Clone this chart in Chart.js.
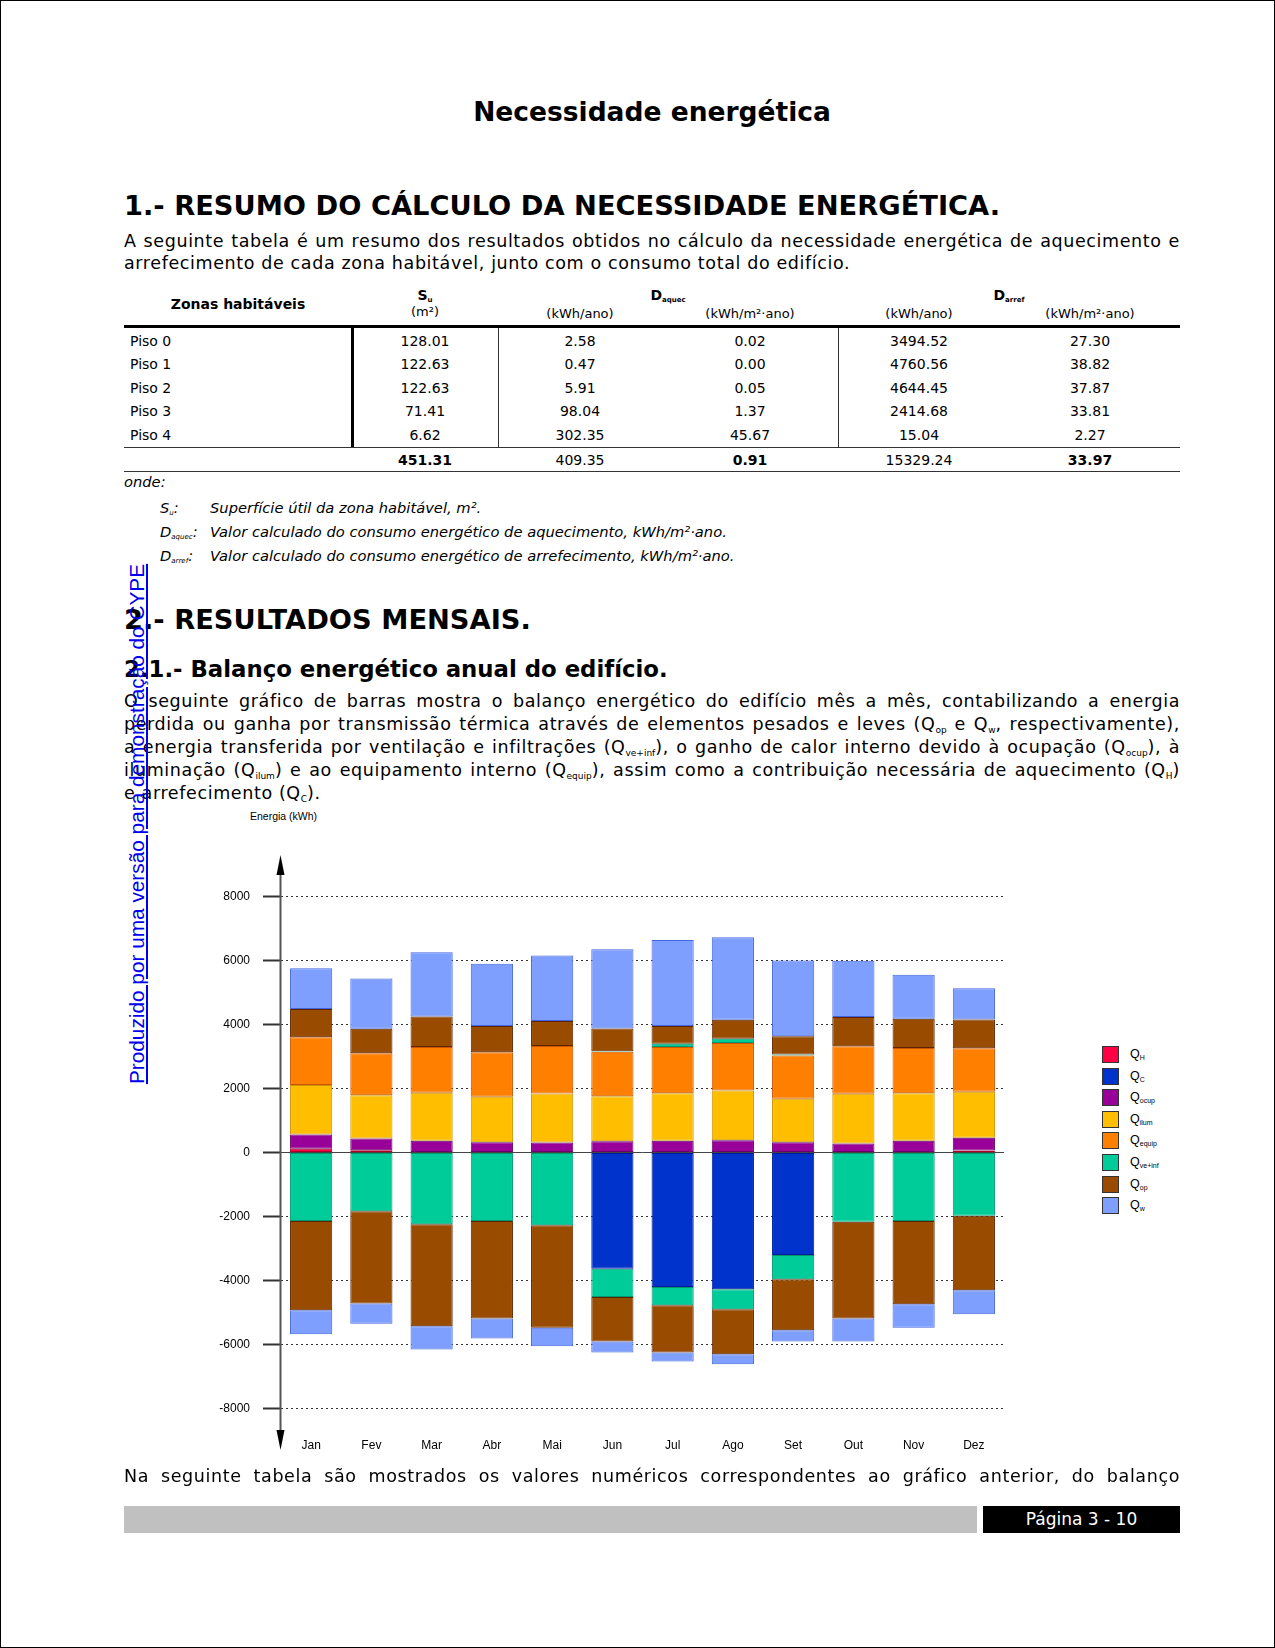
<!DOCTYPE html>
<html lang="pt">
<head>
<meta charset="utf-8">
<title>Necessidade energética</title>
<script src="https://cdn.jsdelivr.net/npm/chart.js@4.4.1/dist/chart.umd.min.js"></script>
<style>
  html, body { margin: 0; padding: 0; background: #fff; }
  body { width: 1275px; height: 1648px; position: relative; overflow: hidden; font-family: "DejaVu Sans", Verdana, sans-serif; color: #000; }
  .frame { position: absolute; left: 0; top: 0; width: 1273px; height: 1646px; border: 1px solid #000; }
  .abs { position: absolute; }
  .title { left: 124px; width: 1056px; top: 96px; font-size: 26.5px; font-weight: bold; text-align: center; line-height: 32px; }
  .h1 { left: 124px; font-size: 27.3px; font-weight: bold; line-height: 32px; white-space: nowrap; }
  .h2 { left: 124px; font-size: 22.8px; font-weight: bold; line-height: 28px; white-space: nowrap; }
  .jl { left: 124px; width: 1056px; font-size: 17.5px; letter-spacing: 0.62px; line-height: 22px; text-align: justify; text-align-last: justify; }
  .ll { left: 124px; width: 1056px; font-size: 17.5px; letter-spacing: 0.62px; line-height: 22px; }
  .jl sub, .ll sub { font-size: 9px; letter-spacing: 0; vertical-align: -3px; line-height: 0; }
  .row { position: absolute; left: 124px; width: 1056px; display: flex; font-size: 14px; }
  .row div { text-align: center; }
  .c0 { width: 228px; } .c1 { width: 146px; } .c2 { width: 164px; } .c3 { width: 176px; } .c4 { width: 162px; } .c5 { width: 180px; }
  .row .c0.l { text-align: left; padding-left: 6px; box-sizing: border-box; }
  .hd sub { font-size: 7px; vertical-align: -2px; line-height: 0; }
  .unit { font-size: 13px; }
  .hline { position: absolute; left: 124px; width: 1056px; background: #000; }
  .vline { position: absolute; background: #000; }
  .note { font-size: 14.7px; font-style: italic; line-height: 18px; white-space: nowrap; }
  .note sub { font-size: 7px; vertical-align: -2px; line-height: 0; }
  .mark { left: -143px; top: 812px; width: 560px; height: 24px; line-height: 24px; text-align: center; font-family: "Liberation Sans", Arial, sans-serif; font-size: 20.8px; color: #0000ee; text-decoration: underline; transform: rotate(-90deg); white-space: nowrap; }
  .ylab { left: 250px; top: 809px; font-family: "Liberation Sans", Arial, sans-serif; font-size: 10.5px; line-height: 14px; }
  #chartBox { position: absolute; left: 180px; top: 800px; width: 830px; height: 676px; }
  #legend { position: absolute; left: 1102px; top: 1046px; font-family: "Liberation Sans", Arial, sans-serif; }
  #legend .it { height: 21.6px; display: flex; align-items: flex-start; }
  #legend .sw { width: 15px; height: 15px; border: 1px solid #333; box-sizing: content-box; margin-right: 11px; }
  #legend .tx { font-size: 12.5px; line-height: 16px; }
  #legend .tx sub { font-size: 7px; vertical-align: -2px; line-height: 0; }
  .foot { position: absolute; top: 1506px; height: 27px; }
</style>
</head>
<body>
<div class="frame"></div>

<div class="abs title">Necessidade energética</div>

<div class="abs h1" style="top:190px">1.- RESUMO DO CÁLCULO DA NECESSIDADE ENERGÉTICA.</div>
<div class="abs jl" style="top:230px">A seguinte tabela é um resumo dos resultados obtidos no cálculo da necessidade energética de aquecimento e</div>
<div class="abs ll" style="top:252px">arrefecimento de cada zona habitável, junto com o consumo total do edifício.</div>

<!-- tabela resumo -->
<div class="row hd" style="top:284px;height:22px;line-height:22px">
  <div class="c0" style="font-weight:bold;line-height:40px">Zonas habitáveis</div>
  <div class="c1" style="font-weight:bold">S<sub>u</sub></div>
  <div style="width:340px;font-weight:bold">D<sub>aquec</sub></div>
  <div style="width:342px;font-weight:bold">D<sub>arref</sub></div>
</div>
<div class="row unit" style="top:304px;height:20px;line-height:20px">
  <div class="c0"></div>
  <div class="c1" style="margin-top:-2px">(m²)</div>
  <div class="c2">(kWh/ano)</div>
  <div class="c3">(kWh/m²·ano)</div>
  <div class="c4">(kWh/ano)</div>
  <div class="c5">(kWh/m²·ano)</div>
</div>
<div class="hline" style="top:325px;height:3px"></div>
<div class="row" style="top:329.5px;height:23.5px;line-height:23.5px"><div class="c0 l">Piso 0</div><div class="c1">128.01</div><div class="c2">2.58</div><div class="c3">0.02</div><div class="c4">3494.52</div><div class="c5">27.30</div></div>
<div class="row" style="top:353px;height:23.5px;line-height:23.5px"><div class="c0 l">Piso 1</div><div class="c1">122.63</div><div class="c2">0.47</div><div class="c3">0.00</div><div class="c4">4760.56</div><div class="c5">38.82</div></div>
<div class="row" style="top:376.5px;height:23.5px;line-height:23.5px"><div class="c0 l">Piso 2</div><div class="c1">122.63</div><div class="c2">5.91</div><div class="c3">0.05</div><div class="c4">4644.45</div><div class="c5">37.87</div></div>
<div class="row" style="top:400px;height:23.5px;line-height:23.5px"><div class="c0 l">Piso 3</div><div class="c1">71.41</div><div class="c2">98.04</div><div class="c3">1.37</div><div class="c4">2414.68</div><div class="c5">33.81</div></div>
<div class="row" style="top:423.5px;height:23.5px;line-height:23.5px"><div class="c0 l">Piso 4</div><div class="c1">6.62</div><div class="c2">302.35</div><div class="c3">45.67</div><div class="c4">15.04</div><div class="c5">2.27</div></div>
<div class="hline" style="top:447px;height:1px;background:#333"></div>
<div class="row" style="top:448.5px;height:23px;line-height:23px"><div class="c0"></div><div class="c1" style="font-weight:bold">451.31</div><div class="c2">409.35</div><div class="c3" style="font-weight:bold">0.91</div><div class="c4">15329.24</div><div class="c5" style="font-weight:bold">33.97</div></div>
<div class="hline" style="top:471px;height:1px;background:#333"></div>
<div class="vline" style="left:351px;top:328px;width:3px;height:119px"></div>
<div class="vline" style="left:498px;top:328px;width:1px;height:119px;background:#333"></div>
<div class="vline" style="left:838px;top:328px;width:1px;height:119px;background:#333"></div>

<div class="abs note" style="left:124px;top:473px">onde:</div>
<div class="abs note" style="left:160px;top:499px">S<sub>u</sub>:</div>
<div class="abs note" style="left:210px;top:499px">Superfície útil da zona habitável, m².</div>
<div class="abs note" style="left:160px;top:523px">D<sub>aquec</sub>:</div>
<div class="abs note" style="left:210px;top:523px">Valor calculado do consumo energético de aquecimento, kWh/m²·ano.</div>
<div class="abs note" style="left:160px;top:547px">D<sub>arref</sub>:</div>
<div class="abs note" style="left:210px;top:547px">Valor calculado do consumo energético de arrefecimento, kWh/m²·ano.</div>

<div class="abs h1" style="top:604px">2.- RESULTADOS MENSAIS.</div>
<div class="abs h2" style="top:655px">2.1.- Balanço energético anual do edifício.</div>
<div class="abs jl" style="top:690px">O seguinte gráfico de barras mostra o balanço energético do edifício mês a mês, contabilizando a energia</div>
<div class="abs jl" style="top:713px">perdida ou ganha por transmissão térmica através de elementos pesados e leves (Q<sub>op</sub> e Q<sub>w</sub>, respectivamente),</div>
<div class="abs jl" style="top:736px">a energia transferida por ventilação e infiltrações (Q<sub>ve+inf</sub>), o ganho de calor interno devido à ocupação (Q<sub>ocup</sub>), à</div>
<div class="abs jl" style="top:759px">iluminação (Q<sub>ilum</sub>) e ao equipamento interno (Q<sub>equip</sub>), assim como a contribuição necessária de aquecimento (Q<sub>H</sub>)</div>
<div class="abs ll" style="top:782px">e arrefecimento (Q<sub>C</sub>).</div>

<div class="abs ylab">Energia (kWh)</div>
<div id="chartBox"><canvas id="balanco"></canvas></div>
<div id="legend"></div>

<div class="abs jl" style="top:1465px">Na seguinte tabela são mostrados os valores numéricos correspondentes ao gráfico anterior, do balanço</div>

<div class="foot" style="left:124px;width:853px;background:#c0c0c0"></div>
<div class="foot" style="left:983px;width:197px;background:#000;color:#fff;font-size:17px;line-height:27px;text-align:center">Página 3 - 10</div>

<div class="abs mark">Produzido por uma versão para demonstração do CYPE</div>

<script>
// meses e valores mensais (kWh)
const months = ['Jan', 'Fev', 'Mar', 'Abr', 'Mai', 'Jun', 'Jul', 'Ago', 'Set', 'Out', 'Nov', 'Dez'];
const qH = [114, 73, null, null, null, null, null, null, null, null, null, 65];
const qC = [null, null, null, null, null, -3636, -4203, -4276, -3200, null, null, null];
const qOcup = [447, 363, 364, 322, 312, 353, 364, 384, 322, 281, 364, 397];
const qIlum = [1553, 1356, 1501, 1418, 1532, 1408, 1491, 1554, 1356, 1553, 1491, 1439];
const qEquip = [1486, 1309, 1434, 1392, 1486, 1392, 1444, 1485, 1352, 1485, 1413, 1361];
const qVeGanho = [null, null, null, null, null, 15, 104, 135, 30, null, null, null];
const qVePerda = [-2140, -1839, -2244, -2140, -2275, -879, -572, -624, -758, -2161, -2140, -1974];
const qOpGanho = [883, 769, 956, 821, 779, 712, 550, 593, 571, 915, 914, 894];
const qOpPerda = [-2787, -2880, -3183, -3048, -3204, -1391, -1475, -1402, -1594, -3027, -2600, -2328];
const qWGanho = [1277, 1569, 2005, 1943, 2047, 2473, 2691, 2576, 2369, 1756, 1371, 976];
const qWPerda = [-750, -635, -729, -625, -573, -344, -281, -313, -354, -718, -739, -750];
const yTicks = [-8000, -6000, -4000, -2000, 0, 2000, 4000, 6000, 8000];

// legenda: [subscrito, cor, cor do contorno]
const series = {
  H: ['H', '#ff0044', '#b0002a'],
  C: ['C', '#0033cc', '#001a99'],
  ocup: ['ocup', '#990099', '#660066'],
  ilum: ['ilum', '#ffbf00', '#cc9400'],
  equip: ['equip', '#ff8000', '#cc5500'],
  ve: ['ve+inf', '#00cc99', '#00996e'],
  op: ['op', '#994c00', '#5c2400'],
  w: ['w', '#7f9fff', '#4466dd'],
};

function ds(key, data) {
  return {
    label: 'Q' + series[key][0],
    data,
    backgroundColor: series[key][1],
    borderColor: series[key][2],
    borderWidth: 1,
    borderSkipped: false,
  };
}

const legendBox = document.getElementById('legend');
Object.keys(series).forEach((k) => {
  const it = document.createElement('div');
  it.className = 'it';
  it.innerHTML = '<div class="sw" style="background:' + series[k][1] + '"></div><div class="tx">Q<sub>' + series[k][0] + '</sub></div>';
  legendBox.appendChild(it);
});

// eixo vertical com setas nas pontas
const axisArrows = {
  id: 'axisArrows',
  afterDraw(chart) {
    const { ctx, chartArea: { left, top, bottom } } = chart;
    const x = left - 0.5;
    const yTop = top - 15;
    const yBot = bottom + 14;
    ctx.save();
    ctx.strokeStyle = '#555';
    ctx.lineWidth = 2;
    ctx.beginPath();
    ctx.moveTo(x, yTop + 8);
    ctx.lineTo(x, yBot - 8);
    ctx.stroke();
    ctx.fillStyle = '#000';
    ctx.beginPath();
    ctx.moveTo(x, yTop);
    ctx.lineTo(x - 4, yTop + 20);
    ctx.lineTo(x + 4, yTop + 20);
    ctx.closePath();
    ctx.fill();
    ctx.beginPath();
    ctx.moveTo(x, yBot);
    ctx.lineTo(x - 4, yBot - 20);
    ctx.lineTo(x + 4, yBot - 20);
    ctx.closePath();
    ctx.fill();
    ctx.restore();
  },
};

Chart.defaults.font.family = '"Liberation Sans", Arial, sans-serif';
Chart.defaults.font.size = 12;
Chart.defaults.color = '#000';

const balancoChart = new Chart(document.getElementById('balanco'), {
  type: 'bar',
  data: {
    labels: months,
    datasets: [
      ds('H', qH),
      ds('C', qC),
      ds('ocup', qOcup),
      ds('ilum', qIlum),
      ds('equip', qEquip),
      ds('ve', qVeGanho),
      ds('ve', qVePerda),
      ds('op', qOpGanho),
      ds('op', qOpPerda),
      ds('w', qWGanho),
      ds('w', qWPerda),
    ],
  },
  options: {
    responsive: true,
    maintainAspectRatio: false,
    animation: false,
    layout: { padding: { top: 70, right: 6, bottom: 20, left: 0 } },
    datasets: { bar: { categoryPercentage: 1, barPercentage: 0.7 } },
    scales: {
      x: {
        stacked: true,
        grid: { display: false },
        border: { display: false },
        ticks: { padding: -6, maxRotation: 0 },
        afterFit(scale) { scale.height = 20; },
      },
      y: {
        stacked: true,
        min: -8860,
        max: 8830,
        afterFit(scale) { scale.width = 101; },
        afterBuildTicks(scale) { scale.ticks = yTicks.map((v) => ({ value: v })); },
        border: {
          display: false,
          dash: (c) => (c.tick && c.tick.value === 0 ? [] : [2, 3]),
        },
        grid: {
          color: (c) => (c.tick && c.tick.value === 0 ? '#444' : '#333'),
          lineWidth: 1,
          tickLength: 18,
          tickColor: '#333',
          tickWidth: 2,
        },
        ticks: {
          padding: 13,
          callback: (v) => String(v),
        },
      },
    },
    plugins: {
      legend: { display: false },
      tooltip: { enabled: false },
    },
  },
  plugins: [axisArrows],
});
</script>
</body>
</html>
